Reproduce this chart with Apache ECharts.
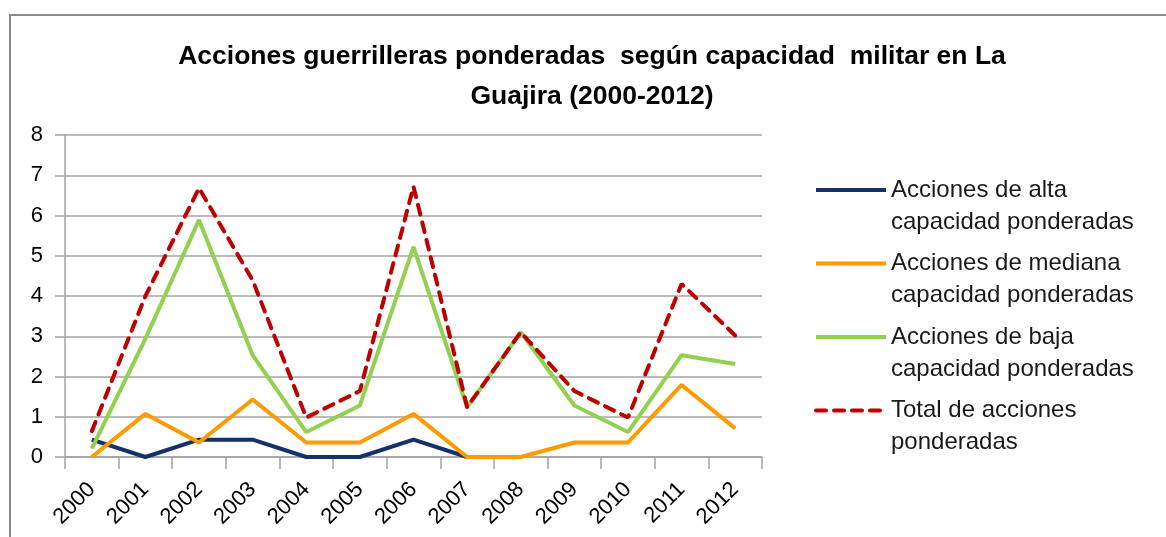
<!DOCTYPE html>
<html>
<head>
<meta charset="utf-8">
<script src="https://cdn.jsdelivr.net/npm/echarts@6/dist/echarts.min.js"></script>
<style>
  html, body { margin: 0; padding: 0; background: #fff; }
  #main { width: 1166px; height: 537px; }
</style>
</head>
<body>
<div id="main"></div>
<script>
var years = ['2000', '2001', '2002', '2003', '2004', '2005', '2006', '2007', '2008', '2009', '2010', '2011', '2012'];
var yTicks = [0, 1, 2, 3, 4, 5, 6, 7, 8];

var alta = [0.43, 0, 0.43, 0.43, 0, 0, 0.43, 0, null, null, null, null, null];
var mediana = [0, 1.07, 0.36, 1.43, 0.36, 0.36, 1.07, 0, 0, 0.36, 0.36, 1.79, 0.71];
var baja = [0.21, 2.94, 5.89, 2.53, 0.62, 1.28, 5.22, 1.24, 3.1, 1.28, 0.62, 2.53, 2.31];
var total = [0.64, 4.0, 6.68, 4.39, 0.98, 1.64, 6.72, 1.24, 3.1, 1.64, 0.98, 4.3, 3.02];

var names = [
  'Acciones de alta\ncapacidad ponderadas',
  'Acciones de mediana\ncapacidad ponderadas',
  'Acciones de baja\ncapacidad ponderadas',
  'Total de acciones\nponderadas'
];
var colors = ['#15306b', '#ff9a00', '#92d050', '#c00000'];

var font = "'Liberation Sans', Arial, sans-serif";
var gridColor = '#a3a3a3';

var myChart = echarts.init(document.getElementById('main'));

function lineSeries(i, data, dashed) {
  return {
    name: names[i],
    type: 'line',
    data: data,
    symbol: 'none',
    showSymbol: false,
    connectNulls: false,
    lineStyle: {
      color: colors[i],
      width: 4,
      type: dashed ? [10, 8] : 'solid',
      cap: dashed ? 'round' : 'butt'
    },
    itemStyle: { color: colors[i] },
    animation: false
  };
}

var option = {
  backgroundColor: '#fff',
  animation: false,
  graphic: [{
    type: 'rect',
    silent: true,
    z: -10,
    shape: { x: 10, y: 15, width: 1400, height: 800 },
    style: { fill: null, stroke: '#898989', lineWidth: 2 }
  }],
  title: {
    text: 'Acciones guerrilleras ponderadas  según capacidad  militar en La\nGuajira (2000-2012)',
    left: 592,
    top: 37,
    textAlign: 'center',
    padding: 0,
    textStyle: {
      fontFamily: font,
      fontWeight: 'bold',
      fontSize: 26.5,
      lineHeight: 40,
      color: '#000'
    }
  },
  legend: {
    orient: 'vertical',
    left: 814,
    top: 142,
    padding: 0,
    itemWidth: 70,
    itemHeight: 14,
    itemGap: -22.5,
    data: names,
    formatter: function (name) {
      return '\n' + name;
    },
    itemStyle: { opacity: 0 },
    lineStyle: { width: 4 },
    textStyle: {
      fontFamily: font,
      fontSize: 24,
      lineHeight: 32,
      color: '#1a1a1a'
    }
  },
  grid: {
    left: 65,
    right: 404,
    top: 135,
    bottom: 80
  },
  xAxis: {
    type: 'category',
    data: years,
    boundaryGap: true,
    axisLine: { show: true, lineStyle: { color: gridColor, width: 1.5 } },
    axisTick: { show: true, length: 12, lineStyle: { color: gridColor, width: 1.5 } },
    axisLabel: {
      rotate: 45,
      margin: 29,
      fontFamily: font,
      fontSize: 22,
      color: '#000'
    },
    splitLine: { show: false }
  },
  yAxis: {
    type: 'value',
    min: yTicks[0],
    max: yTicks[yTicks.length - 1],
    interval: 1,
    axisLine: { show: true, lineStyle: { color: gridColor, width: 1.5 } },
    axisTick: { show: true, length: 10, lineStyle: { color: gridColor, width: 1.5 } },
    axisLabel: {
      margin: 22,
      fontFamily: font,
      fontSize: 22,
      color: '#000'
    },
    splitLine: { show: true, lineStyle: { color: gridColor, width: 1.5 } }
  },
  series: [
    lineSeries(0, alta, false),
    lineSeries(1, mediana, false),
    lineSeries(2, baja, false),
    lineSeries(3, total, true)
  ]
};

if (option && typeof option === 'object') {
  myChart.setOption(option, true);
}
</script>
</body>
</html>
